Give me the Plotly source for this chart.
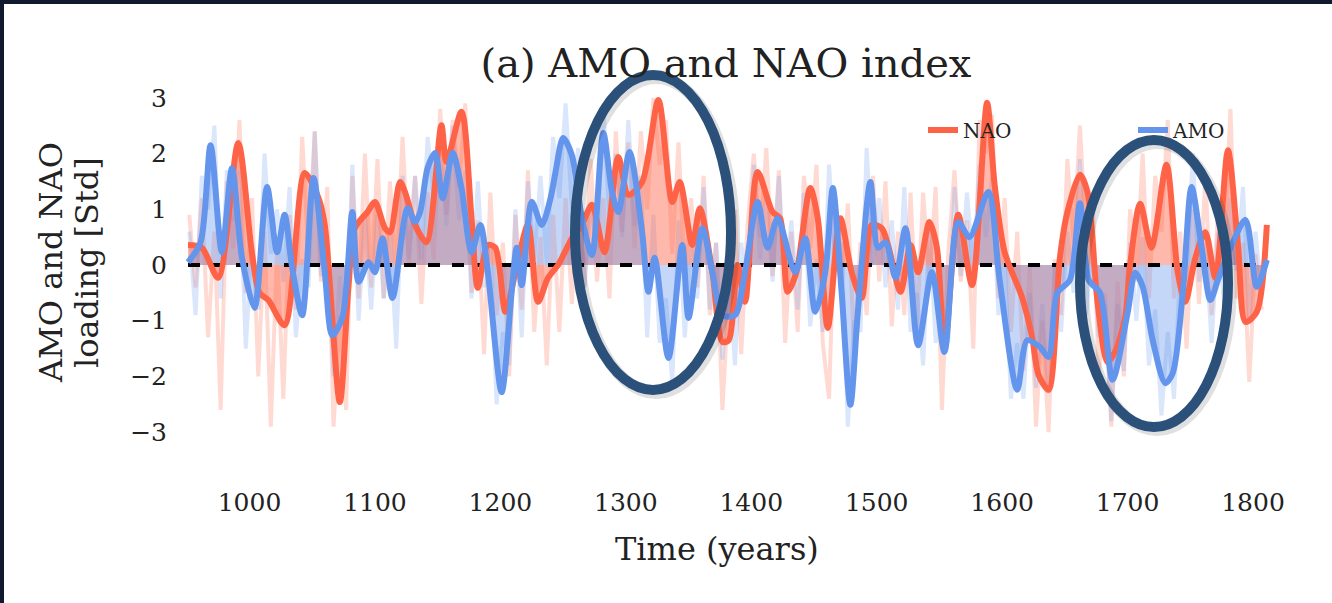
import plotly.graph_objects as go

# ---------------- data ----------------
# Smoothed NAO index
nao_years = [951, 962, 975, 991, 1002, 1008, 1015, 1028, 1044, 1055, 1060, 1072, 1079, 1084, 1094,
             1100, 1108, 1112, 1120, 1124, 1132, 1141, 1153, 1157, 1169, 1177, 1182, 1190, 1196,
             1204, 1212, 1222, 1230, 1238, 1246, 1257, 1265, 1273, 1283, 1294, 1302, 1313, 1326,
             1337, 1343, 1353, 1359, 1369, 1377, 1382, 1389, 1395, 1405, 1417, 1423, 1429, 1436,
             1447, 1453, 1461, 1471, 1480, 1488, 1496, 1504, 1509, 1519, 1527, 1533, 1542, 1548,
             1554, 1565, 1576, 1588, 1594, 1602, 1616, 1624, 1629, 1637, 1646, 1652, 1662, 1668,
             1676, 1684, 1690, 1698, 1702, 1710, 1719, 1731, 1740, 1746, 1754, 1762, 1770, 1780,
             1788, 1794, 1803, 1811]
nao_vals = [0.36, 0.31, -0.23, 2.19, 0.2, -0.5, -0.63, -1.08, 1.65, 1.2, 0.72, -2.46, -0.36, 0.66, 0.95,
            1.13, 0.66, 0.59, 1.49, 1.31, 0.72, 0.41, 2.51, 1.85, 2.75, 0.84, -0.41, 0.36, 0.31,
            -0.84, -0.13, 0.72, -0.66, -0.23, 0.0, 0.48, 0.72, 1.08, 0.23, 1.94, 1.26, 1.49, 2.96,
            1.13, 1.49, 0.36, 1.02, -0.13, -1.38, -1.35, 0.0, -0.66, 1.67, 0.95, 0.84, -0.48, -0.13,
            1.38, 0.84, -1.13, 0.84, -0.13, -0.59, 0.72, 0.66, 0.36, -0.48, 0.36, -0.13, 0.77, 0.31,
            -1.49, 0.9, -0.36, 2.91, 1.44, 0.23, -0.59, -1.31, -1.97, -2.24, 0.13, 0.95, 1.62, 1.31,
            -0.66, -1.74, -1.56, -0.95, 0.0, 1.1, 0.31, 1.8, -0.13, -0.66, 0.13, 0.59, -0.23, 2.06,
            0.36, -1.02, -0.84, 0.72]

# Smoothed AMO index
amo_years = [951, 961, 969, 978, 986, 994, 1004, 1014, 1022, 1028, 1034, 1042, 1051, 1060, 1066,
             1074, 1082, 1087, 1095, 1100, 1106, 1114, 1126, 1132, 1136, 1142, 1148, 1154, 1162,
             1169, 1177, 1184, 1190, 1201, 1209, 1213, 1217, 1225, 1233, 1240, 1244, 1250, 1257,
             1265, 1273, 1282, 1289, 1294, 1303, 1313, 1318, 1323, 1334, 1345, 1350, 1361, 1369,
             1377, 1387, 1395, 1405, 1413, 1421, 1435, 1443, 1451, 1459, 1465, 1472, 1479, 1485,
             1495, 1501, 1507, 1515, 1523, 1533, 1544, 1554, 1565, 1574, 1589, 1598, 1612, 1620,
             1630, 1637, 1644, 1654, 1662, 1669, 1678, 1688, 1700, 1706, 1712, 1720, 1730, 1736,
             1744, 1751, 1759, 1766, 1772, 1779, 1794, 1803, 1811]
amo_vals = [0.05, 0.41, 2.15, 0.23, 1.74, 0.13, -0.77, 1.4, 0.23, 0.9, -0.05, -0.9, 1.56, -0.13, -1.26,
            -0.95, 0.95, -0.3, 0.05, -0.13, 0.48, -0.59, 1.02, 0.77, 0.95, 1.74, 2.01, 1.2, 2.01,
            1.38, 0.23, 0.72, -0.13, -2.28, -0.48, 0.31, -0.36, 1.13, 0.72, 1.2, 1.67, 2.28, 1.97,
            0.84, 0.18, 2.37, 1.31, 0.95, 2.03, 0.59, -0.48, 0.13, -1.67, 0.36, -0.95, 0.66, -0.13,
            -0.9, -0.9, -0.13, 1.13, 0.31, 0.84, -0.13, 0.48, -0.84, -0.13, 1.38, -0.48, -2.51, -0.84,
            1.49, 0.31, 0.41, -0.23, 0.66, -1.44, -0.13, -1.56, 0.77, 0.5, 1.31, -0.27, -2.24, -1.35,
            -1.47, -1.65, -0.5, -0.27, 1.11, -0.27, -0.5, -2.06, -0.86, -0.14, -0.39, -1.35, -2.12, -1.94,
            -0.5, 1.4, 0.32, -0.63, -0.27, 0.14, 0.81, -0.39, 0.09]

# Raw (unsmoothed) series, one value every 5 years from 952
raw_start, raw_step = 952, 5
nao_raw = [
    0.9, -0.4, 1.2, -1.3, 0.6, -2.6, 1.5, 0.3, 2.6, -0.5, 1.2, -2.0, 0.6, -2.9, 0.3, -2.4, 0.9, -0.8, 2.3, 0.2,
    2.4, -0.3, 1.4, -2.9, -0.9, -2.6, 1.6, -0.6, 2.0, -0.4, 1.9, -0.6, 1.5, -0.2, 2.3, 0.0, 1.6, -0.7, 1.3, 0.1,
    2.8, 0.9, 2.6, 1.4, 2.9, -0.5, 0.8, -1.6, 1.3, -0.9, 0.4, -2.0, 0.9, -0.8, 1.7, -1.2, 0.5, -1.8, 0.9, -1.2,
    1.2, -0.7, 1.5, -0.4, 1.9, -0.3, 1.2, -0.6, 2.4, 0.6, 2.2, 0.3, 2.4, 1.0, 3.0, 1.8, 2.6, 0.2, 2.2, -0.2,
    1.2, -0.4, 1.6, -0.9, 0.4, -2.6, -0.5, 1.0, -1.6, 0.7, 2.0, 0.5, 2.1, -0.2, 1.7, -1.4, 0.6, -1.2, 1.6, 0.3,
    1.8, -1.4, -2.4, 1.2, -0.4, 1.1, -1.5, 0.4, -0.9, 1.6, -0.3, 1.5, -1.1, 0.6, -0.9, 1.3, -1.2, 1.3, -0.3, 1.4,
    -2.6, 0.2, 1.7, -0.3, 0.8, -1.5, 2.6, 2.0, 2.7, -0.6, 1.2, -1.2, 0.6, -1.9, 0.0, -2.9, -1.0, -3.0, 0.1, -0.9,
    1.9, 0.4, 2.5, 0.4, 1.3, -2.0, -0.5, -2.9, -0.3, -2.0, 1.0, -0.3, 2.0, -0.6, 1.6, 0.6, 2.6, -0.6, 0.6, -1.5,
    1.0, -0.7, 1.6, -0.9, 0.9, 0.2, 2.8, -0.6, 0.4, -2.1, 0.2, -0.8,
]
amo_raw = [
    0.6, -0.9, 1.6, 1.0, 2.5, -0.6, 1.7, 0.8, 1.7, -1.5, 0.4, -0.8, 2.0, 0.2, 1.0, -0.3, 1.4, -1.3, 0.1, -0.4,
    2.4, -0.2, 0.5, -2.0, -0.2, -1.2, 1.8, -1.0, 0.9, -0.8, 0.9, -0.6, 0.6, -1.5, 1.6, 0.1, 1.6, 0.1, 2.3, 1.2,
    2.2, 0.7, 2.5, 0.8, 1.7, -0.6, 1.5, -0.4, 0.3, -2.5, -1.2, -1.8, 1.0, -1.3, 1.5, 0.1, 1.6, 0.0, 2.3, 1.2,
    2.9, 1.0, 2.1, -0.4, 1.1, 0.3, 2.9, 0.7, 2.0, 0.5, 2.6, 0.7, 1.6, -1.3, 0.9, -1.4, -0.6, -2.1, 0.8, -1.3,
    0.3, -0.6, 1.4, -0.8, 0.4, -1.7, -0.1, -1.8, 0.4, -0.6, 1.8, 0.1, 1.2, -0.3, 1.6, -0.4, 0.8, -0.8, 1.3, -1.1,
    0.1, -1.2, 1.8, 0.0, 0.4, -2.9, -1.0, -1.2, 2.1, 0.0, 1.2, -0.4, 0.8, -0.8, 1.4, -1.2, -0.5, -1.8, 0.7, -1.4,
    -0.6, -1.4, 1.4, -0.2, 1.3, -0.1, 1.8, 0.5, 1.6, -0.9, 0.1, -2.4, -1.4, -2.4, -0.5, -2.2, -0.7, -2.3, 0.0, -1.2,
    0.6, -0.5, 1.9, -0.9, 0.5, -1.3, -0.7, -2.8, -0.7, -1.9, 0.4, -1.0, 0.5, -1.8, -0.8, -2.7, -1.2, -2.4, 0.0, -0.3,
    2.0, -0.3, 0.4, -1.4, 0.6, -0.7, 1.2, -0.1, 1.4, -1.0, 0.6, -0.6,
]
raw_years_nao = [raw_start + raw_step * i for i in range(len(nao_raw))]
raw_years_amo = [raw_start + raw_step * i for i in range(len(amo_raw))]

x_ticks = [1000, 1100, 1200, 1300, 1400, 1500, 1600, 1700, 1800]
y_ticks = [-3, -2, -1, 0, 1, 2, 3]
y_tick_text = ["\u22123", "\u22122", "\u22121", "0", "1", "2", "3"]

# ---------------- styling / layout ----------------
W, H = 1332, 603
L, R, T, B = 180, 52, 80, 153
PW, PH = W - L - R, H - T - B
FONT = "DejaVu Serif"
NAO_C = "#ff6347"
AMO_C = "#6495ed"


def pxx(p):
    return (p - L) / PW


def pxy(p):
    return (H - B - p) / PH


fig = go.Figure()

# raw series (faint)
fig.add_trace(go.Scatter(x=raw_years_nao, y=nao_raw, mode="lines",
                         line=dict(color="rgba(255,99,71,0.24)", width=4),
                         showlegend=False, hoverinfo="skip"))
fig.add_trace(go.Scatter(x=raw_years_amo, y=amo_raw, mode="lines",
                         line=dict(color="rgba(100,149,237,0.24)", width=4),
                         showlegend=False, hoverinfo="skip"))

# fills to zero
fig.add_trace(go.Scatter(x=nao_years, y=nao_vals, mode="lines", fill="tozeroy",
                         fillcolor="rgba(255,99,71,0.45)",
                         line=dict(width=0, shape="spline", smoothing=0.8, color=NAO_C),
                         showlegend=False, hoverinfo="skip"))
fig.add_trace(go.Scatter(x=amo_years, y=amo_vals, mode="lines", fill="tozeroy",
                         fillcolor="rgba(100,149,237,0.38)",
                         line=dict(width=0, shape="spline", smoothing=0.8, color=AMO_C),
                         showlegend=False, hoverinfo="skip"))

# zero line
fig.add_trace(go.Scatter(x=[min(nao_years), max(nao_years)], y=[0, 0], mode="lines",
                         line=dict(color="black", width=4, dash="dash"),
                         showlegend=False, hoverinfo="skip"))

# smoothed lines (each in its own legend box so the entries sit where the original has them)
fig.add_trace(go.Scatter(x=nao_years, y=nao_vals, mode="lines", name="NAO", legend="legend",
                         line=dict(color=NAO_C, width=6, shape="spline", smoothing=0.8)))
fig.add_trace(go.Scatter(x=amo_years, y=amo_vals, mode="lines", name="AMO", legend="legend2",
                         line=dict(color=AMO_C, width=6, shape="spline", smoothing=0.8)))

shapes = []
# dark frame (top and left)
shapes.append(dict(type="rect", xref="paper", yref="paper", x0=pxx(0), x1=pxx(W), y0=pxy(4), y1=pxy(0),
                   fillcolor="#0f1a2e", line=dict(width=0), layer="above"))
shapes.append(dict(type="rect", xref="paper", yref="paper", x0=pxx(0), x1=pxx(4), y0=pxy(H), y1=pxy(0),
                   fillcolor="#0f1a2e", line=dict(width=0), layer="above"))

# highlight ellipses (pixel geometry of the outline centre)
ellipses = [(575, 731, 75, 390), (1080, 1228, 140, 427)]
for (ex0, ex1, ey0, ey1) in ellipses:
    shapes.append(dict(type="circle", xref="paper", yref="paper",
                       x0=pxx(ex0 + 3), x1=pxx(ex1 + 3), y0=pxy(ey1 + 3), y1=pxy(ey0 + 3),
                       line=dict(color="rgba(0,0,0,0.12)", width=12), layer="above"))
    shapes.append(dict(type="circle", xref="paper", yref="paper",
                       x0=pxx(ex0), x1=pxx(ex1), y0=pxy(ey1), y1=pxy(ey0),
                       line=dict(color="#2b5079", width=10), layer="above"))

annotations = [
    dict(text="AMO and NAO", x=pxx(51), y=pxy(263), xref="paper", yref="paper", textangle=-90,
         showarrow=False, xanchor="center", yanchor="middle", font=dict(family=FONT, size=32, color="#222")),
    dict(text="loading [Std]", x=pxx(87), y=pxy(263), xref="paper", yref="paper", textangle=-90,
         showarrow=False, xanchor="center", yanchor="middle", font=dict(family=FONT, size=32, color="#222")),
    dict(text="Time (years)", x=pxx(717), y=pxy(549), xref="paper", yref="paper",
         showarrow=False, xanchor="center", yanchor="middle", font=dict(family=FONT, size=32, color="#222")),
]

legend_common = dict(orientation="h", yanchor="middle", xanchor="left", bgcolor="rgba(0,0,0,0)",
                     font=dict(family=FONT, size=20, color="#222"))

fig.update_layout(
    width=W, height=H,
    margin=dict(l=L, r=R, t=T, b=B, autoexpand=False),
    paper_bgcolor="white", plot_bgcolor="white",
    title=dict(text="(a) AMO and NAO index", x=726 / W, xref="container", xanchor="center",
               y=1 - 63 / H, yref="container", yanchor="middle",
               font=dict(family=FONT, size=40, color="#222")),
    xaxis=dict(range=[944.6, 1821.5], tickvals=x_ticks, showgrid=False, zeroline=False,
               showline=False, ticks="", ticklabelstandoff=35,
               tickfont=dict(family=FONT, size=25, color="#222")),
    yaxis=dict(range=[-3.32, 3.32], tickvals=y_ticks, ticktext=y_tick_text, showgrid=False,
               zeroline=False, showline=False, ticks="", ticklabelstandoff=12,
               tickfont=dict(family=FONT, size=25, color="#222")),
    legend=dict(x=pxx(923), y=pxy(130), **legend_common),
    legend2=dict(x=pxx(1133), y=pxy(130), **legend_common),
    shapes=shapes,
    annotations=annotations,
)

fig.write_html("out.html", config={"displayModeBar": False},
               post_script="document.body.style.margin='0';document.body.style.overflow='hidden';")
